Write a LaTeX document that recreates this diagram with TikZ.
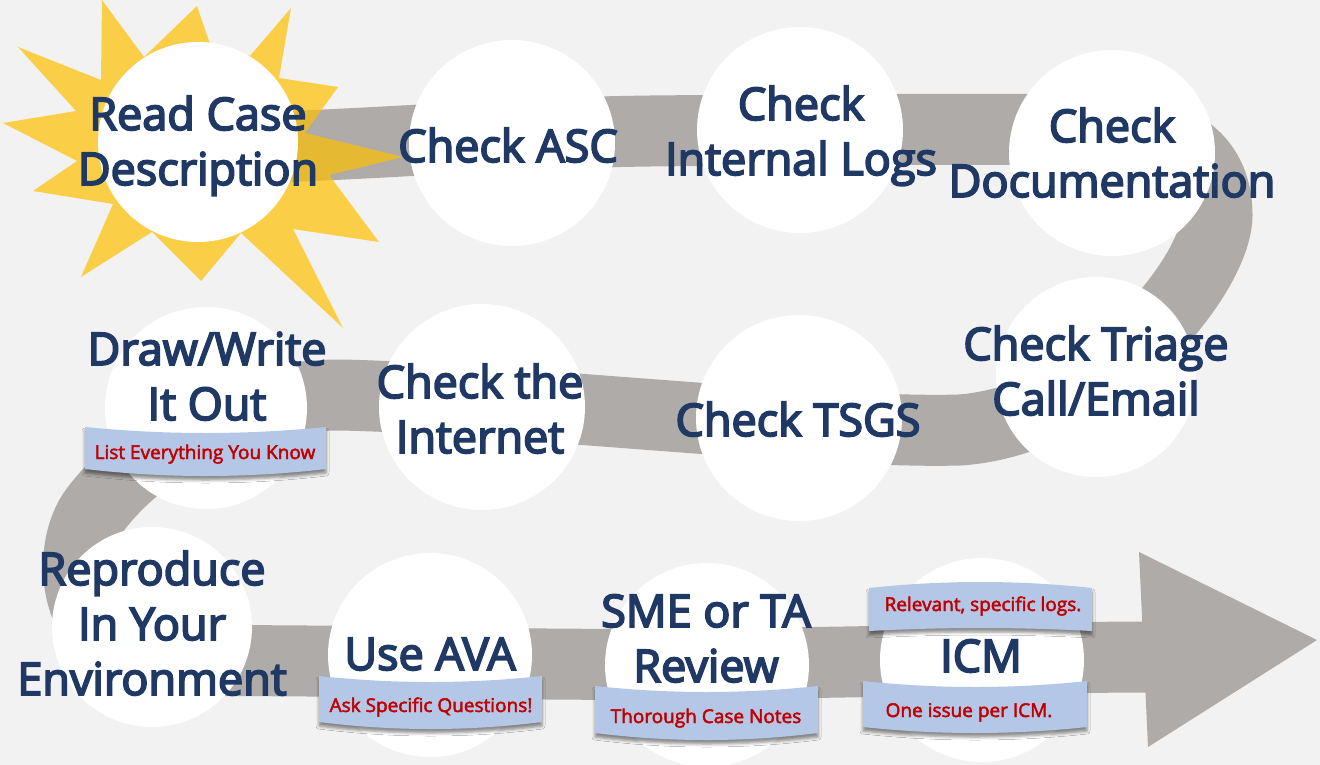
\documentclass[tikz,border=0pt]{standalone}
\usepackage{fontspec}
\usetikzlibrary{shadows.blur}
\newfontfamily\lblfont{Open Sans}[FakeBold=4]
\newfontfamily\notefont{Open Sans}[FakeBold=2.5]
\definecolor{bgcol}{HTML}{F2F2F2}
\definecolor{bandcol}{HTML}{AEABA9}
\definecolor{suncol}{HTML}{FFC000}
\definecolor{navy}{HTML}{1F3864}
\definecolor{notered}{HTML}{C00000}
\definecolor{ribboncol}{HTML}{B4C7E7}
\newcommand\lines[1]{\begin{tabular}[t]{@{}c@{}}#1\end{tabular}}
% ribbon banner: left, right, top, bottom, top sag, bottom sag
\newcommand\ribbon[6]{%
  \path[ribbonfill] (#1,#3)
    .. controls ({#1+(#2-#1)/3},{#3+#5*4/3}) and ({#2-(#2-#1)/3},{#3+#5*4/3}) .. (#2,#3)
    -- (#2,#4)
    .. controls ({#2-(#2-#1)/3},{#4+#6*4/3}) and ({#1+(#2-#1)/3},{#4+#6*4/3}) .. (#1,#4)
    -- cycle;}
\begin{document}
\begin{tikzpicture}[x=1pt,y=-1pt,
  band/.style={draw=bandcol, line width=71pt, line cap=butt},
  sunray/.style={fill=suncol, fill opacity=0.7},
  disc/.style={circle, fill=white, minimum size=204pt, inner sep=0pt},
  lbl/.style={font=\lblfont\fontsize{45}{55}\selectfont, text=navy, anchor=base, inner sep=0pt},
  ribbonfill/.style={fill=ribboncol, blur shadow={shadow xshift=0pt, shadow yshift=-4pt, shadow blur radius=3pt, shadow opacity=45}},
  ribtext/.style={font=\notefont\fontsize{19}{22}\selectfont, text=notered, anchor=base, inner sep=0pt}]
\useasboundingbox (0,0) rectangle (1320,765);
\fill[bgcol] (0,0) rectangle (1320,765);

% winding road behind the steps
\draw[band] (250,148) .. controls (400,143) and (500,133) .. (650,131)
  .. controls (850,129) and (1000,129) .. (1110,130)
  .. controls (1190,131) and (1217,170) .. (1217,215)
  .. controls (1217,275) and (1100,420) .. (960,430)
  .. controls (820,434) and (500,398) .. (340,395)
  .. controls (230,395) and (140,450) .. (95,510)
  .. controls (65,550) and (70,650) .. (160,661)
  .. controls (350,659) and (500,666) .. (700,664)
  .. controls (900,662) and (1050,657) .. (1150,657);
\fill[bandcol] (1139,552) -- (1317,640) -- (1148,747) -- cycle;

% starburst around the first step
\fill[sunray] (3,123) -- (76,111) -- (18,47) -- (101,80) -- (102,0) -- (144,57)
  -- (197,6) -- (210,44) -- (250,56) -- (291,8) -- (279,78) -- (338,87)
  -- (305,133) -- (403,157) -- (329,175) -- (379,242) -- (293,229)
  -- (343,328) -- (241,233) -- (201,281) -- (152,232) -- (81,277)
  -- (113,204) -- (33,191) -- (77,161) -- cycle;

% step discs
\node[disc, minimum size=200pt] (rcd) at (198,142) {};
\node[disc, minimum size=206pt] (asc) at (512,143) {};
\node[disc, minimum size=206pt] (logs) at (800,130) {};
\node[disc, minimum size=206pt] (doc) at (1112,153) {};
\node[disc, minimum size=200pt] (triage) at (1096,377) {};
\node[disc, minimum size=206pt] (tsgs) at (799,418) {};
\node[disc, minimum size=206pt] (inet) at (482,407) {};
\node[disc, minimum size=202pt] (draw) at (206,408) {};
\node[disc, minimum size=200pt] (repro) at (152,627) {};
\node[disc, minimum size=204pt] (ava) at (430,655) {};
\node[disc, minimum size=204pt] (sme) at (707,665) {};
\node[disc, minimum size=204pt] (icm) at (982,660) {};

% step titles
\node[lbl] (rcd-t) at (198,130) {\lines{Read Case\\Description}};
\node[lbl] (asc-t) at (508,162) {Check ASC};
\node[lbl] (logs-t) at (801,120) {\lines{Check\\Internal Logs}};
\node[lbl] (doc-t) at (1112,142) {\lines{Check\\Documentation}};
\node[lbl] (triage-t) at (1096,360) {\lines{Check Triage\\Call/Email}};
\node[lbl] (tsgs-t) at (798,436) {Check TSGS};
\node[lbl] (inet-t) at (480,398) {\lines{Check the\\Internet}};
\node[lbl] (draw-t) at (207,365) {\lines{Draw/Write\\It Out}};
\node[lbl] (repro-t) at (152,585) {\lines{Reproduce\\In Your\\Environment}};
\node[lbl] (ava-t) at (430,670) {Use AVA};
\node[lbl] (sme-t) at (706,627) {\lines{SME or TA\\Review}};
\node[lbl] (icm-t) at (981,672) {ICM};

% banners with hints
\ribbon{85}{326}{427}{469}{6}{7}
\node[ribtext] (draw-n) at (205,459) {List Everything You Know};
\ribbon{319}{542}{676}{722}{6}{7}
\node[ribtext] (ava-n) at (431,712) {Ask Specific Questions!};
\ribbon{595}{818}{686}{733}{6}{7}
\node[ribtext] (sme-n) at (706,723) {Thorough Case Notes};
\ribbon{869}{1092}{588}{631}{-6}{-3}
\node[ribtext] (icm-n1) at (983,611) {Relevant, specific logs.};
\ribbon{863}{1087}{681}{727}{6}{6}
\node[ribtext] (icm-n2) at (969,717) {One issue per ICM.};
\end{tikzpicture}
\end{document}
